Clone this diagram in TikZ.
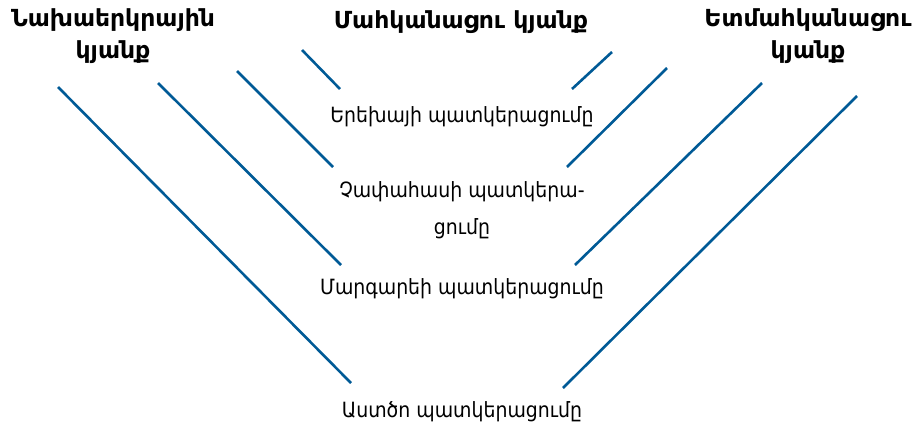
\documentclass[tikz,border=0pt]{standalone}
\usepackage{fontspec}
\newfontfamily\armfont{DejaVu Sans Condensed}
\newfontfamily\armbold{DejaVu Sans Bold}
\definecolor{lineblue}{HTML}{005A96}
\begin{document}
\begin{tikzpicture}[x=1pt,y=-1pt,
  head/.style={font=\armbold\fontsize{23.5}{32}\selectfont, align=center, text=black, inner sep=0pt, anchor=base},
  body/.style={font=\armfont\fontsize{21}{37}\selectfont, align=center, text=black, inner sep=0pt, anchor=base},
  vline/.style={draw=lineblue, line width=2.6pt}]
\useasboundingbox (0,0) rectangle (922,424);
\node[head] (pre) at (113,58) {Նախաերկրային\\կյանք};
\node[head] (mort) at (461,28) {Մահկանացու կյանք};
\node[head] (post) at (808,58) {Ետմահկանացու\\կյանք};
\node[body] (child) at (462,122) {Երեխայի պատկերացումը};
\node[body] (adult) at (462,234) {Չափահասի պատկերա-\\ցումը};
\node[body] (prophet) at (462,294) {Մարգարեի պատկերացումը};
\node[body] (god) at (462,417) {Աստծո պատկերացումը};
\coordinate (l1a) at (58,87);  \coordinate (l1b) at (351,383);
\coordinate (l2a) at (158,83); \coordinate (l2b) at (341,265);
\coordinate (l3a) at (237,71); \coordinate (l3b) at (333,167);
\coordinate (l4a) at (302,50); \coordinate (l4b) at (340,89);
\coordinate (r1a) at (857,96); \coordinate (r1b) at (563,388);
\coordinate (r2a) at (762,83); \coordinate (r2b) at (575,265);
\coordinate (r3a) at (667,68); \coordinate (r3b) at (567,167);
\coordinate (r4a) at (612,52); \coordinate (r4b) at (572,89);
\draw[vline] (l1a) -- (l1b);
\draw[vline] (l2a) -- (l2b);
\draw[vline] (l3a) -- (l3b);
\draw[vline] (l4a) -- (l4b);
\draw[vline] (r1a) -- (r1b);
\draw[vline] (r2a) -- (r2b);
\draw[vline] (r3a) -- (r3b);
\draw[vline] (r4a) -- (r4b);
\end{tikzpicture}
\end{document}
